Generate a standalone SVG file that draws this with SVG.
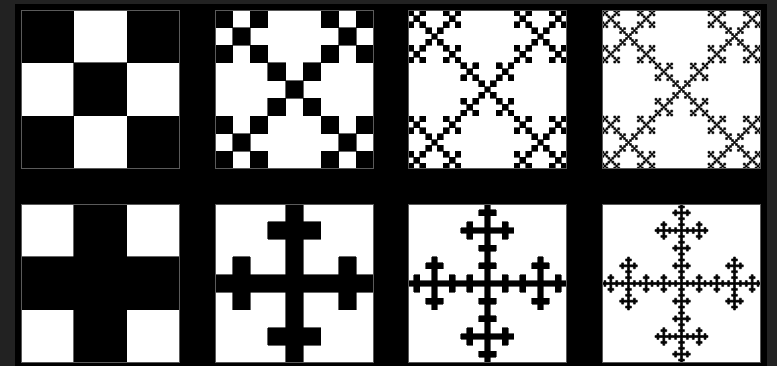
<svg xmlns="http://www.w3.org/2000/svg" xmlns:xlink="http://www.w3.org/1999/xlink" width="777" height="366" viewBox="0 0 777 366">
  <style>
    .bg { fill: #222222; }
    .frame { fill: #000000; }
    .panel { fill: #ffffff; }
    .edge { fill: none; stroke: #5a5a5a; stroke-width: 1; }
    .ink { fill: #000000; }
    .crisp { shape-rendering: crispEdges; }
    #c0 { fill: #000000; stroke: #000000; stroke-width: 0.6; vector-effect: non-scaling-stroke; }
  </style>
  <defs>
    <rect id="c0" x="0" y="0" width="1" height="1" vector-effect="non-scaling-stroke"/>
    <!-- saltire (X) Vicsek -->
    <g id="x1">
      <use href="#c0" transform="translate(0,0) scale(0.333333)"/>
      <use href="#c0" transform="translate(0.666667,0) scale(0.333333)"/>
      <use href="#c0" transform="translate(0.333333,0.333333) scale(0.333333)"/>
      <use href="#c0" transform="translate(0,0.666667) scale(0.333333)"/>
      <use href="#c0" transform="translate(0.666667,0.666667) scale(0.333333)"/>
    </g>
    <g id="x2">
      <use href="#x1" transform="translate(0,0) scale(0.333333)"/>
      <use href="#x1" transform="translate(0.666667,0) scale(0.333333)"/>
      <use href="#x1" transform="translate(0.333333,0.333333) scale(0.333333)"/>
      <use href="#x1" transform="translate(0,0.666667) scale(0.333333)"/>
      <use href="#x1" transform="translate(0.666667,0.666667) scale(0.333333)"/>
    </g>
    <g id="x3">
      <use href="#x2" transform="translate(0,0) scale(0.333333)"/>
      <use href="#x2" transform="translate(0.666667,0) scale(0.333333)"/>
      <use href="#x2" transform="translate(0.333333,0.333333) scale(0.333333)"/>
      <use href="#x2" transform="translate(0,0.666667) scale(0.333333)"/>
      <use href="#x2" transform="translate(0.666667,0.666667) scale(0.333333)"/>
    </g>
    <g id="x4">
      <use href="#x3" transform="translate(0,0) scale(0.333333)"/>
      <use href="#x3" transform="translate(0.666667,0) scale(0.333333)"/>
      <use href="#x3" transform="translate(0.333333,0.333333) scale(0.333333)"/>
      <use href="#x3" transform="translate(0,0.666667) scale(0.333333)"/>
      <use href="#x3" transform="translate(0.666667,0.666667) scale(0.333333)"/>
    </g>
    <!-- cross (+) Vicsek -->
    <g id="p1">
      <use href="#c0" transform="translate(0.333333,0) scale(0.333333)"/>
      <use href="#c0" transform="translate(0,0.333333) scale(0.333333)"/>
      <use href="#c0" transform="translate(0.333333,0.333333) scale(0.333333)"/>
      <use href="#c0" transform="translate(0.666667,0.333333) scale(0.333333)"/>
      <use href="#c0" transform="translate(0.333333,0.666667) scale(0.333333)"/>
    </g>
    <g id="p2">
      <use href="#p1" transform="translate(0.333333,0) scale(0.333333)"/>
      <use href="#p1" transform="translate(0,0.333333) scale(0.333333)"/>
      <use href="#p1" transform="translate(0.333333,0.333333) scale(0.333333)"/>
      <use href="#p1" transform="translate(0.666667,0.333333) scale(0.333333)"/>
      <use href="#p1" transform="translate(0.333333,0.666667) scale(0.333333)"/>
    </g>
    <g id="p3">
      <use href="#p2" transform="translate(0.333333,0) scale(0.333333)"/>
      <use href="#p2" transform="translate(0,0.333333) scale(0.333333)"/>
      <use href="#p2" transform="translate(0.333333,0.333333) scale(0.333333)"/>
      <use href="#p2" transform="translate(0.666667,0.333333) scale(0.333333)"/>
      <use href="#p2" transform="translate(0.333333,0.666667) scale(0.333333)"/>
    </g>
    <g id="p4">
      <use href="#p3" transform="translate(0.333333,0) scale(0.333333)"/>
      <use href="#p3" transform="translate(0,0.333333) scale(0.333333)"/>
      <use href="#p3" transform="translate(0.333333,0.333333) scale(0.333333)"/>
      <use href="#p3" transform="translate(0.666667,0.333333) scale(0.333333)"/>
      <use href="#p3" transform="translate(0.333333,0.666667) scale(0.333333)"/>
    </g>
  </defs>

  <rect class="bg" x="0" y="0" width="777" height="366"/>
  <rect class="frame" x="15" y="4" width="752" height="362"/>

  <g id="saltire-1">
    <rect class="panel" x="21" y="10" width="159" height="159"/>
    <use class="ink crisp" href="#x1" transform="translate(21,10) scale(159)"/>
    <rect class="edge" x="21.5" y="10.5" width="158" height="158"/>
  </g>
  <g id="saltire-2">
    <rect class="panel" x="215" y="10" width="159" height="159"/>
    <use class="ink crisp" href="#x2" transform="translate(215,10) scale(159)"/>
    <rect class="edge" x="215.5" y="10.5" width="158" height="158"/>
  </g>
  <g id="saltire-3">
    <rect class="panel" x="408" y="10" width="159" height="159"/>
    <use class="ink crisp" href="#x3" transform="translate(408,10) scale(159)"/>
    <rect class="edge" x="408.5" y="10.5" width="158" height="158"/>
  </g>
  <g id="saltire-4">
    <rect class="panel" x="602" y="10" width="159" height="159"/>
    <use class="ink" href="#x4" transform="translate(602,10) scale(159)"/>
    <rect class="edge" x="602.5" y="10.5" width="158" height="158"/>
  </g>

  <g id="cross-1">
    <rect class="panel" x="21" y="204" width="159" height="159"/>
    <use class="ink crisp" href="#p1" transform="translate(21,204) scale(159)"/>
    <rect class="edge" x="21.5" y="204.5" width="158" height="158"/>
  </g>
  <g id="cross-2">
    <rect class="panel" x="215" y="204" width="159" height="159"/>
    <use class="ink crisp" href="#p2" transform="translate(215,204) scale(159)"/>
    <rect class="edge" x="215.5" y="204.5" width="158" height="158"/>
  </g>
  <g id="cross-3">
    <rect class="panel" x="408" y="204" width="159" height="159"/>
    <use class="ink crisp" href="#p3" transform="translate(408,204) scale(159)"/>
    <rect class="edge" x="408.5" y="204.5" width="158" height="158"/>
  </g>
  <g id="cross-4">
    <rect class="panel" x="602" y="204" width="159" height="159"/>
    <use class="ink" href="#p4" transform="translate(602,204) scale(159)"/>
    <rect class="edge" x="602.5" y="204.5" width="158" height="158"/>
  </g>
</svg>
